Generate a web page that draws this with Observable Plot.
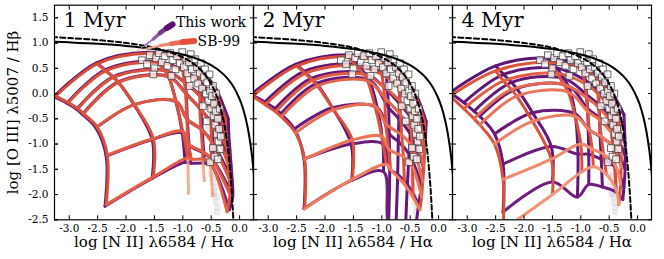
<!DOCTYPE html>
<html><head><meta charset="utf-8">
<script src="https://cdn.jsdelivr.net/npm/d3@7"></script>
<script src="https://cdn.jsdelivr.net/npm/@observablehq/plot@0.6"></script>
<style>body{margin:0;background:#fff} svg{display:block}</style>
</head><body><div id="chart"></div>
<script>
const panels = ["1 Myr", "2 Myr", "4 Myr"];
const xTicks = [-3, -2.5, -2, -1.5, -1, -0.5, 0];
const yTicks = [-2.5, -2, -1.5, -1, -0.5, 0, 0.5, 1, 1.5];

// model grids: one column per metallicity (low -> high), rows from high to low ionisation parameter, [x, y]
const grid1Work = [
  [[-3.27,-0.06],[-3.04,-0.19],[-2.87,-0.31],[-2.77,-0.41],[-2.53,-0.68],[-2.35,-1.24],[-2.37,-2.23]],
  [[-2.52,0.61],[-2.37,0.47],[-2.23,0.33],[-2.14,0.23],[-1.86,-0.22],[-1.54,-0.91],[-1.54,-1.68]],
  [[-1.62,0.82],[-1.45,0.64],[-1.32,0.46],[-1.25,0.34],[-1.12,-0.16],[-1.01,-0.78],[-0.96,-1.36]],
  [[-1.03,0.71],[-0.99,0.46],[-0.96,0.22],[-0.94,0.00],[-0.92,-0.52],[-0.89,-1.02],[-0.86,-1.38]],
  [[-0.70,0.48],[-0.68,0.21],[-0.68,-0.05],[-0.68,-0.32],[-0.66,-0.72],[-0.63,-1.18],[-0.62,-1.38]],
  [[-0.44,0.14],[-0.45,-0.10],[-0.46,-0.36],[-0.47,-0.62],[-0.47,-0.98],[-0.47,-1.32],[-0.50,-1.42]],
  [[-0.20,-0.50],[-0.19,-0.80],[-0.17,-1.12],[-0.15,-1.42],[-0.13,-1.72],[-0.12,-2.02],[-0.18,-2.30]]
];
const grid1SB = [
  [[-3.24,-0.05],[-3.02,-0.18],[-2.85,-0.30],[-2.75,-0.40],[-2.51,-0.66],[-2.33,-1.22],[-2.35,-2.20]],
  [[-2.51,0.59],[-2.36,0.45],[-2.22,0.32],[-2.13,0.22],[-1.85,-0.22],[-1.52,-0.89],[-1.52,-1.65]],
  [[-1.62,0.80],[-1.45,0.62],[-1.32,0.45],[-1.25,0.33],[-1.12,-0.15],[-1.00,-0.75],[-0.91,-1.27]],
  [[-1.05,0.70],[-1.00,0.45],[-0.97,0.22],[-0.95,0.00],[-0.93,-0.50],[-0.90,-1.00],[-0.85,-1.30]],
  [[-0.72,0.46],[-0.70,0.20],[-0.70,-0.05],[-0.70,-0.30],[-0.68,-0.70],[-0.65,-1.15],[-0.65,-1.30]],
  [[-0.47,0.13],[-0.48,-0.10],[-0.49,-0.35],[-0.50,-0.60],[-0.50,-0.95],[-0.50,-1.28],[-0.52,-1.35]],
  [[-0.25,-0.50],[-0.24,-0.80],[-0.22,-1.10],[-0.20,-1.40],[-0.18,-1.70],[-0.17,-2.00],[-0.22,-2.34]]
];
const grid2Work = [
  [[-3.30,-0.02],[-3.06,-0.17],[-2.88,-0.30],[-2.78,-0.40],[-2.54,-0.70],[-2.37,-1.30],[-2.37,-2.28]],
  [[-2.52,0.58],[-2.37,0.44],[-2.24,0.30],[-2.15,0.20],[-1.87,-0.28],[-1.54,-1.00],[-1.53,-1.72]],
  [[-1.60,0.77],[-1.44,0.58],[-1.30,0.40],[-1.22,0.26],[-1.08,-0.28],[-0.98,-1.00],[-0.97,-1.55]],
  [[-0.96,0.64],[-0.92,0.36],[-0.90,0.06],[-0.88,-0.28],[-0.87,-0.80],[-0.86,-1.50],[-0.88,-2.55]],
  [[-0.68,0.40],[-0.68,0.10],[-0.69,-0.20],[-0.70,-0.50],[-0.71,-0.95],[-0.72,-1.60],[-0.75,-2.60]],
  [[-0.44,0.08],[-0.46,-0.20],[-0.48,-0.50],[-0.50,-0.80],[-0.52,-1.20],[-0.55,-1.80],[-0.58,-2.60]],
  [[-0.22,-0.55],[-0.23,-0.85],[-0.25,-1.15],[-0.27,-1.45],[-0.30,-1.80],[-0.35,-2.20],[-0.40,-2.60]]
];
const grid2SB = [
  [[-3.28,-0.05],[-3.05,-0.22],[-2.87,-0.36],[-2.77,-0.46],[-2.52,-0.78],[-2.36,-1.30],[-2.36,-2.28]],
  [[-2.50,0.55],[-2.35,0.40],[-2.22,0.26],[-2.13,0.15],[-1.85,-0.32],[-1.52,-0.92],[-1.52,-1.70]],
  [[-1.60,0.74],[-1.45,0.55],[-1.32,0.38],[-1.25,0.25],[-1.12,-0.25],[-1.00,-0.85],[-0.92,-1.40]],
  [[-1.05,0.64],[-1.00,0.38],[-0.97,0.14],[-0.95,-0.08],[-0.93,-0.60],[-0.88,-1.10],[-0.85,-1.50]],
  [[-0.70,0.40],[-0.68,0.12],[-0.68,-0.15],[-0.67,-0.42],[-0.65,-0.82],[-0.62,-1.25],[-0.60,-1.80]],
  [[-0.46,0.08],[-0.47,-0.18],[-0.48,-0.45],[-0.48,-0.72],[-0.47,-1.05],[-0.46,-1.45],[-0.45,-2.05]],
  [[-0.25,-0.55],[-0.25,-0.85],[-0.25,-1.15],[-0.26,-1.45],[-0.28,-1.75],[-0.30,-2.05],[-0.33,-2.30]]
];
const grid3Work = [
  [[-3.30,0.02],[-3.06,-0.18],[-2.88,-0.35],[-2.78,-0.45],[-2.52,-0.80],[-2.37,-1.40],[-2.37,-2.35]],
  [[-2.50,0.55],[-2.36,0.38],[-2.22,0.22],[-2.13,0.10],[-1.85,-0.38],[-1.52,-1.05],[-1.50,-1.75]],
  [[-1.58,0.70],[-1.42,0.50],[-1.30,0.30],[-1.22,0.15],[-1.10,-0.40],[-1.05,-1.20],[-1.06,-2.05]],
  [[-0.96,0.55],[-0.92,0.26],[-0.90,-0.02],[-0.88,-0.30],[-0.87,-0.70],[-0.86,-1.20],[-0.86,-1.80]],
  [[-0.70,0.36],[-0.69,0.06],[-0.68,-0.22],[-0.67,-0.48],[-0.66,-0.85],[-0.64,-1.30],[-0.62,-1.85]],
  [[-0.46,0.04],[-0.45,-0.24],[-0.44,-0.50],[-0.43,-0.75],[-0.42,-1.05],[-0.40,-1.45],[-0.38,-1.95]],
  [[-0.24,-0.42],[-0.23,-0.70],[-0.22,-0.98],[-0.22,-1.22],[-0.22,-1.50],[-0.24,-1.85],[-0.26,-2.10]]
];
const grid3SB = [
  [[-3.30,-0.05],[-3.06,-0.30],[-2.88,-0.50],[-2.78,-0.62],[-2.52,-1.00],[-2.37,-1.70],[-2.37,-2.70]],
  [[-2.50,0.45],[-2.36,0.25],[-2.22,0.08],[-2.13,-0.05],[-1.85,-0.55],[-1.52,-1.30],[-1.50,-2.00]],
  [[-1.58,0.62],[-1.42,0.40],[-1.30,0.18],[-1.22,0.03],[-1.10,-0.45],[-1.00,-1.00],[-0.98,-1.55]],
  [[-0.98,0.50],[-0.93,0.20],[-0.90,-0.08],[-0.88,-0.35],[-0.85,-0.72],[-0.80,-1.10],[-0.78,-1.45]],
  [[-0.72,0.30],[-0.70,0.00],[-0.68,-0.28],[-0.67,-0.52],[-0.64,-0.85],[-0.60,-1.20],[-0.55,-1.60]],
  [[-0.50,0.00],[-0.49,-0.28],[-0.48,-0.55],[-0.46,-0.78],[-0.44,-1.05],[-0.40,-1.40],[-0.38,-1.90]],
  [[-0.32,-0.45],[-0.31,-0.72],[-0.30,-0.98],[-0.29,-1.20],[-0.29,-1.45],[-0.30,-1.80],[-0.33,-2.20]]
];
// faint low-ionisation extensions of the SB-99 grid in the 1 Myr panel: [x1, y1, x2, y2]
const tails1SB = [[-0.91,-1.27,-0.90,-2.00],[-0.65,-1.30,-0.62,-1.75],[-0.52,-1.35,-0.47,-2.05]];

const kewleyX = [-3.3,-3.0,-2.5,-2.0,-1.5,-1.0,-0.75,-0.5,-0.3,-0.2,-0.1,0.0,0.05,0.1,0.15,0.2,0.22,0.24,0.26,0.3];
const kewleyY = [1.028,1.014,0.985,0.943,0.880,0.775,0.690,0.561,0.398,0.280,0.120,-0.108,-0.262,-0.459,-0.716,-1.069,-1.25,-1.462,-1.715,-2.398];
const kauffX = [-3.3,-3.0,-2.5,-2.0,-1.5,-1.0,-0.75,-0.6,-0.5,-0.4,-0.3,-0.25,-0.2,-0.15,-0.12,-0.1];
const kauffY = [1.118,1.1,1.061,1.002,0.906,0.719,0.5375,0.362,0.191,-0.056,-0.443,-0.733,-1.14,-1.75,-2.288,-2.767];

const obsX = [-1.72,-1.63,-1.58,-1.50,-1.47,-1.42,-1.37,-1.32,-1.27,-1.22,-1.18,-1.13,-1.10,-1.05,-1.01,-0.98,-0.95,-0.92,-0.89,-0.86,-0.84,-0.80,-0.78,-0.75,-0.73,-0.70,-0.68,-0.66,-0.63,-0.61,-0.59,-0.57,-0.55,-0.53,-0.52,-0.50,-0.49,-0.47,-0.46,-0.45,-0.43,-0.42,-0.41,-0.40,-0.38,-0.37,-0.36,-0.35,-0.34,-0.33,-0.47,-0.52,-0.44,-0.58,-0.88,-1.20,-1.52,-0.65,-0.38];
const obsY = [0.66,0.58,0.76,0.50,0.70,0.80,0.62,0.74,0.55,0.80,0.66,0.48,0.74,0.60,0.82,0.52,0.70,0.40,0.62,0.78,0.48,0.30,0.68,0.52,0.20,0.40,0.60,0.10,0.32,0.48,0.00,0.22,-0.15,0.38,0.05,-0.30,-0.05,0.15,-0.45,-0.20,-0.62,-0.35,0.00,-0.80,-0.50,-0.95,-0.70,-0.30,-1.10,-0.85,-1.08,-1.36,-1.25,-0.55,0.15,0.35,0.38,-0.25,-1.30];
const faintX = [-0.52,-0.48,-0.45,-0.43,-0.41,-0.39,-0.37,-0.47,-0.44,-0.42,-0.40,-0.46,-0.43,-0.50,-0.38,-0.41,-0.55,-0.60,-0.66,-0.72,-0.49,-0.36];
const faintY = [-1.25,-1.45,-1.65,-1.85,-2.05,-2.25,-1.55,-1.75,-1.95,-2.15,-2.35,-2.0,-1.35,-1.6,-1.2,-0.95,-0.7,-0.3,0.05,0.3,-0.55,-1.05];

const legendLabels = ["This work", "SB-99"];
const legendTextX = [-1.12, -0.74];
const legendTextY = [1.40, 1.03];
const swooshWorkX = [-1.79,-1.66,-1.52,-1.40,-1.28,-1.18];
const swooshWorkY = [0.86,0.96,1.08,1.20,1.30,1.37];
const swooshSBX = [-1.81,-1.60,-1.40,-1.20,-1.00,-0.80];
const swooshSBY = [0.85,0.90,0.95,0.99,1.02,1.04];

// colour ramps (high -> low ionisation parameter), per panel
const workColors = ["#5e1473", "#6e1f7e"];
const sbColors1 = ["#d64a3c", "#e35f47"];
const sbColors2 = ["#d84c3c", "#ee7d5f"];
const sbColors3 = ["#de543d", "#f39476"];
const sbZColor = "#d9503f";

function gridLines(grid, panel, model, colors, zColor) {
  const nq = grid[0].length;
  const col = d3.interpolateRgb(colors[0], colors[1]);
  const rows = [];
  grid.forEach((c, i) => c.forEach((p) => rows.push({panel, key: `${panel}-${model}-z${i}`, x: p[0], y: p[1], color: zColor})));
  for (let j = 0; j < nq; j++) grid.forEach((c) => rows.push({panel, key: `${panel}-${model}-q${j}`, x: c[j][0], y: c[j][1], color: col(j / (nq - 1))}));
  return rows;
}
const workLines = [
  ...gridLines(grid1Work, panels[0], "work", workColors, "#64177a"),
  ...gridLines(grid2Work, panels[1], "work", workColors, "#64177a"),
  ...gridLines(grid3Work, panels[2], "work", workColors, "#64177a")];
const sbLines = [
  ...gridLines(grid1SB, panels[0], "sb", sbColors1, sbZColor),
  ...gridLines(grid2SB, panels[1], "sb", sbColors2, sbZColor),
  ...gridLines(grid3SB, panels[2], "sb", sbColors3, sbZColor)];
const tails = tails1SB.map(([x1, y1, x2, y2]) => ({panel: panels[0], x1, y1, x2, y2}));

const kewley = kewleyX.map((x, i) => ({x, y: kewleyY[i]}));
const kauff = kauffX.map((x, i) => ({x, y: kauffY[i]}));
const obs = obsX.map((x, i) => ({x, y: obsY[i]}));
const faint = faintX.map((x, i) => ({x, y: faintY[i]}));
const segs = (X, Y, c0, c1) => X.slice(1).map((x, i) => ({panel: panels[0], x1: X[i], y1: Y[i], x2: x, y2: Y[i + 1], w: 0.8 + i * 1.3, color: d3.interpolateRgb(c0, c1)(i / (X.length - 2))}));
const swooshes = [...segs(swooshWorkX, swooshWorkY, "#c9a6d6", "#5a1170"), ...segs(swooshSBX, swooshSBY, "#f6c2b0", "#e4503a")];
const legendRows = legendLabels.map((t, i) => ({panel: panels[0], t, x: legendTextX[i], y: legendTextY[i]}));

const fmt = d => d.toFixed(1);
const font = "DejaVu Serif";

const chart = Plot.plot({
  width: 664, height: 259,
  marginLeft: 52.5, marginRight: 12.5, marginTop: 4.7, marginBottom: 39.7,
  style: {fontFamily: font, background: "white", color: "black"},
  fx: {domain: panels, padding: 0, axis: null},
  x: {domain: [-3.26, 0.245]},
  y: {domain: [-2.5, 1.75]},
  marks: [
    Plot.dot(faint, {x: "x", y: "y", symbol: "square", r: 3.5, fill: "#bdbdbd", fillOpacity: 0.3, stroke: "none", clip: true}),
    Plot.line(workLines, {x: "x", y: "y", z: "key", fx: "panel", stroke: "color", strokeWidth: 3, curve: "catmull-rom", clip: true}),
    Plot.link(tails, {x1: "x1", y1: "y1", x2: "x2", y2: "y2", fx: "panel", stroke: "#f29a7c", strokeWidth: 3, strokeOpacity: 0.8, clip: true}),
    Plot.line(sbLines, {x: "x", y: "y", z: "key", fx: "panel", stroke: "color", strokeWidth: 3, curve: "catmull-rom", clip: true}),
    Plot.dot(obs, {x: "x", y: "y", symbol: "square", r: 3.8, fill: "white", fillOpacity: 0.75, stroke: "#444", strokeWidth: 0.8, clip: true}),
    Plot.line(kauff, {x: "x", y: "y", stroke: "black", strokeWidth: 2, strokeDasharray: "5,3", curve: "catmull-rom", clip: true}),
    Plot.line(kewley, {x: "x", y: "y", stroke: "black", strokeWidth: 2, curve: "catmull-rom", clip: true}),
    Plot.link(swooshes, {x1: "x1", y1: "y1", x2: "x2", y2: "y2", fx: "panel", stroke: "color", strokeWidth: "w", strokeLinecap: "round"}),
    Plot.text(legendRows, {x: "x", y: "y", text: "t", fx: "panel", textAnchor: "start", fontSize: 14, fontFamily: font}),
    Plot.text(panels, {fx: d => d, text: d => d, frameAnchor: "top-left", dx: 9, dy: 7, lineAnchor: "top", fontSize: 20.5, fontFamily: font}),
    Plot.text(panels, {fx: d => d, text: () => "log [N II] λ6584 / Hα", frameAnchor: "bottom", dy: 27, fontSize: 15, fontFamily: font}),
    Plot.text(panels.slice(0, 1), {fx: d => d, text: () => "log [O III] λ5007 / Hβ", frameAnchor: "left", textAnchor: "middle", dx: -41, rotate: -90, fontSize: 15, fontFamily: font}),
    Plot.frame({stroke: "black", strokeWidth: 1.2}),
    Plot.axisX({anchor: "bottom", ticks: xTicks, tickSize: -4, tickPadding: 9, tickFormat: fmt, fontSize: 10.5, label: null}),
    Plot.axisX({anchor: "top", ticks: xTicks, tickSize: -4, tickFormat: () => "", label: null}),
    Plot.axisY({anchor: "left", ticks: yTicks, tickSize: -4, tickPadding: 10, tickFormat: fmt, fontSize: 10.5, label: null}),
    Plot.axisY({anchor: "left", ticks: yTicks, tickSize: -4, tickFormat: () => "", label: null, facetAnchor: null}),
    Plot.axisY({anchor: "right", ticks: yTicks, tickSize: -4, tickFormat: () => "", label: null, facetAnchor: null})
  ]
});
document.getElementById("chart").append(chart);
</script>
</body></html>
